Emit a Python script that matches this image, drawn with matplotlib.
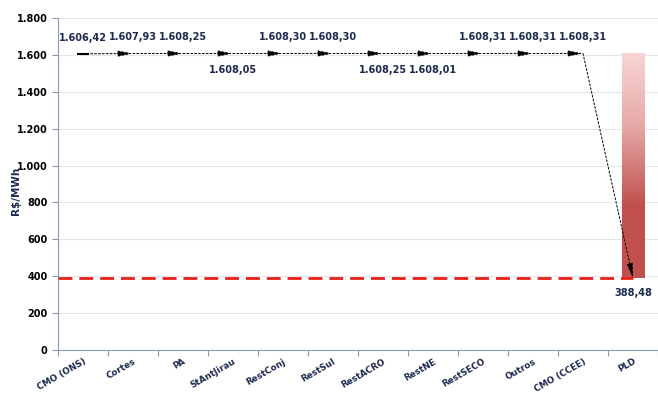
import matplotlib
matplotlib.use("Agg")
import matplotlib.pyplot as plt
import numpy as np
from matplotlib.colors import LinearSegmentedColormap

categorias = ["CMO (ONS)", "Cortes", "PA", "StAntJirau", "RestConj", "RestSul",
              "RestACRO", "RestNE", "RestSECO", "Outros", "CMO (CCEE)", "PLD"]
valores = [1606.42, 1607.93, 1608.25, 1608.05, 1608.30, 1608.30,
           1608.25, 1608.01, 1608.31, 1608.31, 1608.31]
pld = 388.48
rotulo_abaixo = [False, False, False, True, False, False, True, True, False, False, False]

navy = "#1c2a4f"

def fmt(v):
    s = f"{v:,.2f}"
    return s.replace(",", "X").replace(".", ",").replace("X", ".")

fig = plt.figure(figsize=(6.58, 3.94), dpi=100)
ax = fig.add_axes([0.088, 0.112, 0.912, 0.842])

x = np.arange(len(categorias))
ax.set_xlim(-0.5, len(categorias) - 0.5)
ax.set_ylim(0, 1800)

# grade
ax.set_yticks(np.arange(0, 1801, 200))
ax.grid(axis="y", color="#e6e6e6", lw=0.8)
ax.set_axisbelow(True)

# barra PLD com degrade
cmap = LinearSegmentedColormap.from_list(
    "pld", [(0, "#c0504d"), (0.32, "#c0504d"), (0.68, "#e6a9a8"), (1, "#f8d6d4")])
i_pld = len(categorias) - 1
larg = 0.44
barra = ax.bar(i_pld, valores[-1] - pld, bottom=pld, width=larg, color="none",
               edgecolor="none", zorder=2)[0]
grad = np.linspace(0, 1, 256).reshape(-1, 1)
im = ax.imshow(grad, cmap=cmap, origin="lower", aspect="auto", zorder=2,
               extent=[i_pld - larg / 2, i_pld + larg / 2, pld, valores[-1]])
im.set_clip_path(barra)

# linha tracejada do PLD
ax.plot([-0.5, i_pld], [pld, pld], ls=(0, (5, 2.5)), color="#e8201c", lw=2, zorder=3)

# setas entre os passos
ax.plot(x[0], valores[0], marker="_", ms=9, mew=1.5, color="black", zorder=4)
pontos = list(valores) + [pld]
for i in range(1, len(pontos)):
    ax.annotate("", xy=(i, pontos[i]), xytext=(i - 1, pontos[i - 1]),
                arrowprops=dict(arrowstyle="-|>,head_length=0.9,head_width=0.18",
                                ls=(0, (2, 2)), lw=0.7, color="black",
                                shrinkA=0, shrinkB=0), zorder=4)

# rotulos
rot = dict(ha="center", fontsize=7, fontweight="bold", color=navy)
for i, v in enumerate(valores):
    if rotulo_abaixo[i]:
        ax.text(i, v - 60, fmt(v), va="top", **rot)
    else:
        ax.text(i, v + 60, fmt(v), va="bottom", **rot)
ax.text(i_pld, pld - 55, fmt(pld), va="top", **rot)

ax.set_xticks(np.arange(-0.5, len(categorias), 1), minor=False)
ax.set_xticklabels([])
ax.set_xticks(x, minor=True)
ax.set_xticklabels(categorias, minor=True, rotation=30, ha="right",
                   rotation_mode="anchor", fontsize=6.3, fontweight="bold", color=navy)
ax.tick_params(axis="x", which="minor", length=0, pad=5)
ax.tick_params(axis="x", which="major", length=4, color="#8a9ab8")
ax.set_yticklabels([fmt(v).split(",")[0] for v in np.arange(0, 1801, 200)],
                   fontsize=7, fontweight="bold", color="black")
ax.tick_params(axis="y", length=4, color="#8a9ab8")
ax.set_ylabel("R$/MWh", fontsize=7.5, fontweight="bold", color=navy)
ax.yaxis.set_label_coords(-0.062, 0.48)

for s in ["top", "right"]:
    ax.spines[s].set_visible(False)
for s in ["left", "bottom"]:
    ax.spines[s].set_color("#8a9ab8")

fig.savefig("out.png", dpi=100)
